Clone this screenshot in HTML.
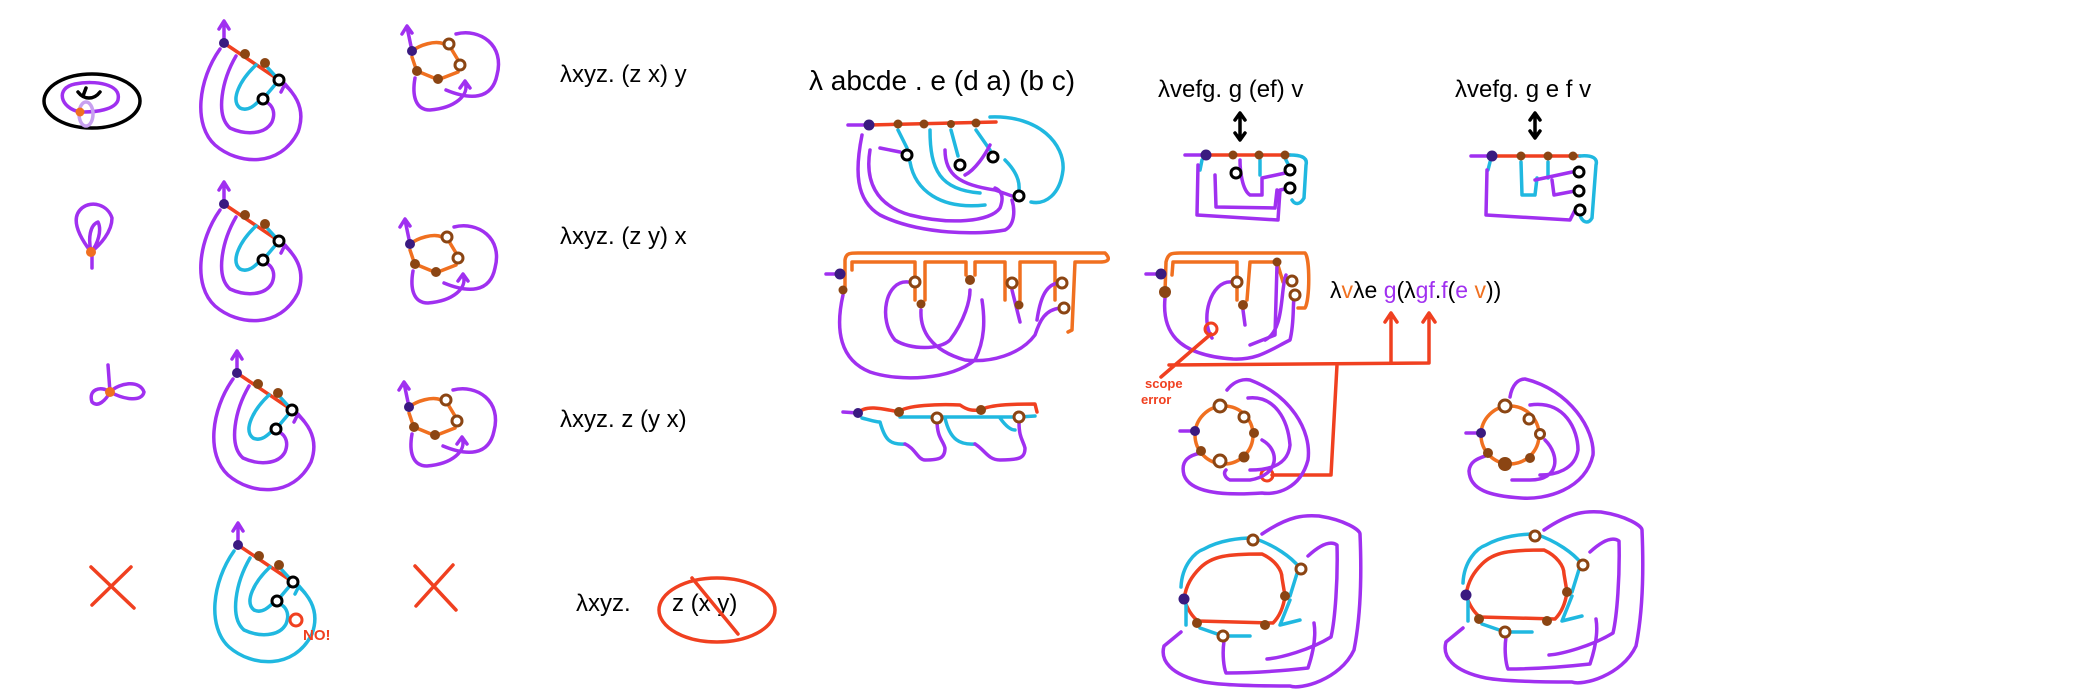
<!DOCTYPE html>
<html><head><meta charset="utf-8"><style>
html,body{margin:0;padding:0;background:#fff;}
svg{display:block;}
text{font-family:"Liberation Sans",sans-serif;}
.p{fill:none;stroke-width:3.5;stroke-linecap:round;stroke-linejoin:round;}
</style></head><body>
<svg width="2100" height="700" viewBox="0 0 2100 700" xmlns="http://www.w3.org/2000/svg">
<defs>
<g id="spiral">
<path class="p" stroke="#a030f0" d="M224,43 L224,22 M219,29 L224,21 L229,29"/>
<path class="p" stroke="#f04020" d="M224,43 L279,80"/>
<path class="p" stroke="#20b8e0" d="M268,68 L279,80 L263,99"/>
<path class="p" stroke="currentColor" d="M220,49 C198,80 193,125 215,145 C238,165 280,168 298,132 C306,110 296,95 285,85 M281,92 L285,84 L291,91"/>
<path class="p" stroke="currentColor" d="M236,56 C222,80 215,115 230,128 C245,135 265,135 272,122 C276,112 272,106 268,103"/>
<path class="p" stroke="#20b8e0" d="M256,65 C240,80 230,100 240,108 C248,112 255,105 260,100"/>
<circle cx="224" cy="43" r="5" fill="#3a1a80"/>
<circle cx="245" cy="54" r="5" fill="#8b4513"/>
<circle cx="265" cy="63" r="5" fill="#8b4513"/>
<circle cx="279" cy="80" r="5" fill="#fff" stroke="#000" stroke-width="3"/>
<circle cx="263" cy="99" r="5" fill="#fff" stroke="#000" stroke-width="3"/>
</g>
<g id="loop">
<path class="p" stroke="#a030f0" d="M412,51 L407,27 M402,34 L407,26 L412,33"/>
<path class="p" stroke="#f07020" d="M412,51 C420,45 435,40 444,44 M452,50 L458,60 M458,72 L440,79 M434,78 L417,71 M415,66 L412,57"/>
<path class="p" stroke="#a030f0" d="M415,78 C412,95 415,110 430,110 C455,108 470,95 465,82 M460,88 L465,81 L470,88"/>
<path class="p" stroke="#a030f0" d="M456,34 C480,28 505,45 497,75 C492,100 470,100 446,90"/>
<circle cx="412" cy="51" r="5" fill="#3a1a80"/>
<circle cx="449" cy="44" r="5" fill="#fff" stroke="#8b4513" stroke-width="3"/>
<circle cx="460" cy="65" r="5" fill="#fff" stroke="#8b4513" stroke-width="3"/>
<circle cx="438" cy="79" r="5" fill="#8b4513"/>
<circle cx="417" cy="71" r="5" fill="#8b4513"/>
</g>
<g id="bigring">
<path class="p" stroke="#f04020" d="M1184,599 C1186,585 1192,576 1200,568 C1212,556 1227,554 1262,554 C1275,560 1282,570 1282,578 L1285,596 C1283,610 1278,618 1273,623 L1198,621 C1190,615 1186,605 1184,599"/>
<path class="p" stroke="#20b8e0" d="M1181,587 C1182,565 1195,552 1204,549 C1220,540 1240,538 1253,538 C1275,545 1292,558 1299,567 L1290,596 M1186,605 L1186,625 M1200,628 L1223,636 L1250,636 M1290,600 L1280,625 L1300,620"/>
<path class="p" stroke="#a030f0" d="M1262,534 C1290,515 1305,515 1319,516 C1345,520 1360,530 1360,534 C1362,580 1360,620 1354,650 C1340,680 1300,690 1290,686 C1250,686 1220,685 1204,682 C1170,675 1160,660 1164,646 L1181,632"/>
<path class="p" stroke="#a030f0" d="M1308,556 C1320,545 1330,540 1337,545 C1338,580 1335,620 1331,637 C1310,650 1280,658 1267,659"/>
<path class="p" stroke="#a030f0" d="M1224,641 C1222,655 1224,668 1226,673 C1260,673 1290,670 1308,668 C1314,650 1316,635 1314,623"/>
<circle cx="1184" cy="599" r="5.5" fill="#3a1a80"/>
<circle cx="1253" cy="540" r="5" fill="#fff" stroke="#8b4513" stroke-width="3"/>
<circle cx="1301" cy="569" r="5" fill="#fff" stroke="#8b4513" stroke-width="3"/>
<circle cx="1223" cy="636" r="5" fill="#fff" stroke="#8b4513" stroke-width="3"/>
<circle cx="1285" cy="596" r="5" fill="#8b4513"/>
<circle cx="1265" cy="625" r="5" fill="#8b4513"/>
<circle cx="1197" cy="623" r="5" fill="#8b4513"/>
</g>
</defs>

<g>
<ellipse cx="92" cy="101" rx="48" ry="27" class="p" stroke="#000"/>
<path class="p" stroke="#a030f0" d="M80,112 C60,108 55,88 75,84 C95,80 122,84 118,100 C115,110 95,112 84,112"/>
<path class="p" stroke="#000" d="M78,92 C84,100 94,100 100,92 M83,96 L86,88"/>
<ellipse cx="86" cy="114" rx="7" ry="12" class="p" stroke="#c8a0f0"/>
<circle cx="80" cy="112" r="4.5" fill="#f07020"/>
</g>
<g>
<path class="p" stroke="#a030f0" d="M91,252 C78,235 70,218 82,208 C92,200 108,205 112,218 C112,232 100,245 91,252 Z M91,252 C88,238 90,225 98,222 C102,230 98,244 91,252 M92,255 L92,268"/>
<circle cx="91" cy="252" r="5" fill="#f07020"/>
</g>
<g>
<path class="p" stroke="#a030f0" d="M108,365 L110,392 C100,385 88,390 92,402 C98,408 106,400 110,392 C120,382 140,380 144,392 C142,402 125,400 110,392"/>
<circle cx="110" cy="392" r="5" fill="#f07020"/>
</g>
<path class="p" stroke="#f04020" d="M91,567 L134,608 M131,567 L92,605"/>

<use href="#spiral" style="color:#a030f0"/>
<use href="#spiral" x="0" y="161" style="color:#a030f0"/>
<use href="#spiral" x="13" y="330" style="color:#a030f0"/>
<use href="#spiral" x="14" y="502" style="color:#20b8e0"/>
<circle cx="296" cy="620" r="6" fill="none" stroke="#f04020" stroke-width="3"/>
<text x="303" y="640" font-size="15" font-weight="bold" fill="#f04020">NO!</text>

<use href="#loop"/>
<use href="#loop" x="-2" y="193"/>
<use href="#loop" x="-3" y="356"/>
<path class="p" stroke="#f04020" d="M415,566 L456,610 M453,565 L416,606"/>

<text x="560" y="82" font-size="24">λxyz.  (z x) y</text>
<text x="560" y="244" font-size="24">λxyz.  (z y) x</text>
<text x="560" y="427" font-size="24">λxyz.  z (y x)</text>
<text x="576" y="611" font-size="24">λxyz.</text>
<ellipse cx="717" cy="610" rx="58" ry="32" class="p" stroke="#f04020"/>
<text x="672" y="611" font-size="24">z (x y)</text>
<path class="p" stroke="#f04020" d="M692,578 L738,634"/>

<text x="809" y="90" font-size="28">λ abcde . e (d a) (b c)</text>
<text x="1158" y="97" font-size="24">λvefg.  g  (ef) v</text>
<text x="1455" y="97" font-size="24">λvefg.  g  e  f  v</text>
<path class="p" stroke="#000" d="M1240,114 L1240,139 M1235,120 L1240,113 L1245,120 M1235,133 L1240,140 L1245,133"/>
<path class="p" stroke="#000" d="M1535,114 L1535,137 M1530,120 L1535,113 L1540,120 M1530,131 L1535,138 L1540,131"/>

<g>
<path class="p" stroke="#a030f0" d="M869,125 L848,125"/>
<path class="p" stroke="#f04020" d="M869,125 L996,122"/>
<path class="p" stroke="#20b8e0" d="M990,117 C1040,115 1065,145 1063,170 C1060,195 1045,205 1031,202 M898,130 L907,148 M951,130 L958,156 M976,130 L990,150 M1005,160 C1015,170 1020,180 1019,190"/>
<path class="p" stroke="#a030f0" d="M862,135 C855,170 855,200 880,215 C920,235 980,235 1005,230 C1015,225 1015,210 1012,200"/>
<path class="p" stroke="#a030f0" d="M870,150 C865,180 875,205 910,215 C950,225 990,222 1000,208 C1005,195 1000,190 995,188 M880,148 L900,152"/>
<path class="p" stroke="#20b8e0" d="M910,162 C915,190 940,210 985,205 M930,130 C930,170 940,190 980,193"/>
<path class="p" stroke="#a030f0" d="M945,150 C945,175 960,185 995,190 L1012,196 M990,145 C985,155 975,170 965,175"/>
<circle cx="869" cy="125" r="5.5" fill="#3a1a80"/>
<circle cx="898" cy="124" r="4.5" fill="#8b4513"/><circle cx="924" cy="124" r="4.5" fill="#8b4513"/>
<circle cx="951" cy="124" r="4" fill="#8b4513"/><circle cx="976" cy="123" r="4.5" fill="#8b4513"/>
<circle cx="907" cy="155" r="5" fill="#fff" stroke="#000" stroke-width="3"/>
<circle cx="960" cy="165" r="5" fill="#fff" stroke="#000" stroke-width="3"/>
<circle cx="993" cy="157" r="5" fill="#fff" stroke="#000" stroke-width="3"/>
<circle cx="1019" cy="196" r="5" fill="#fff" stroke="#000" stroke-width="3"/>
</g>

<g>
<path class="p" stroke="#f07020" d="M845,290 L845,260 C846,253 850,253 858,253 L1105,253 C1110,258 1110,262 1100,262 L1075,262 L1072,330 L1068,332 M852,270 L852,262 L915,262 L915,300 M925,300 L925,262 L966,262 L966,275 M975,275 L975,262 L1005,262 L1005,300 M1020,300 L1020,262 L1055,262 L1055,300"/>
<path class="p" stroke="#a030f0" d="M840,274 L826,274 M843,295 C835,330 840,360 870,372 C900,382 950,380 975,360 C985,340 985,320 982,300"/>
<path class="p" stroke="#a030f0" d="M908,282 C885,280 878,320 895,340 C910,350 940,350 950,340 C965,320 970,300 970,290 M921,310 C920,330 930,350 965,360 C990,363 1020,355 1035,335 C1040,320 1045,310 1060,308 M1012,290 L1020,322 M1058,283 C1045,285 1040,300 1037,320"/>
<circle cx="840" cy="274" r="5.5" fill="#3a1a80"/><circle cx="843" cy="290" r="4.5" fill="#8b4513"/>
<circle cx="915" cy="282" r="5" fill="#fff" stroke="#8b4513" stroke-width="3"/>
<circle cx="970" cy="280" r="5" fill="#8b4513"/>
<circle cx="1012" cy="283" r="5" fill="#fff" stroke="#8b4513" stroke-width="3"/>
<circle cx="1062" cy="283" r="5" fill="#fff" stroke="#8b4513" stroke-width="3"/>
<circle cx="1064" cy="308" r="5" fill="#fff" stroke="#8b4513" stroke-width="3"/>
<circle cx="921" cy="304" r="4.5" fill="#8b4513"/><circle cx="1019" cy="305" r="4.5" fill="#8b4513"/>
</g>

<g>
<path class="p" stroke="#a030f0" d="M858,413 L843,412"/>
<path class="p" stroke="#f04020" d="M858,413 C865,405 880,408 899,412 C905,405 940,404 960,405 C970,412 975,410 981,410 C990,404 1020,404 1035,404 L1037,412"/>
<path class="p" stroke="#20b8e0" d="M862,418 C870,420 875,422 880,422 C885,440 890,445 905,444 M900,417 L1019,417 L1035,416 M945,418 C950,440 960,445 975,444 M1000,418 C1005,425 1010,430 1015,430"/>
<path class="p" stroke="#a030f0" d="M905,444 C915,448 918,460 925,460 C940,460 945,458 945,448 C943,440 937,438 937,420 M975,444 C985,450 988,460 1000,460 C1020,460 1025,458 1025,448 C1023,440 1019,438 1019,422"/>
<circle cx="858" cy="413" r="5" fill="#3a1a80"/>
<circle cx="899" cy="412" r="5" fill="#8b4513"/><circle cx="981" cy="410" r="5" fill="#8b4513"/>
<circle cx="937" cy="418" r="5" fill="#fff" stroke="#8b4513" stroke-width="3"/>
<circle cx="1019" cy="417" r="5" fill="#fff" stroke="#8b4513" stroke-width="3"/>
</g>

<g>
<path class="p" stroke="#a030f0" d="M1206,155 L1185,155"/>
<path class="p" stroke="#f04020" d="M1206,155 L1290,155"/>
<path class="p" stroke="#20b8e0" d="M1290,155 C1300,155 1308,157 1306,165 L1304,198 C1300,205 1295,205 1292,200 M1202,160 L1200,170 M1260,160 L1260,175 M1285,158 L1290,168"/>
<path class="p" stroke="#a030f0" d="M1198,165 L1197,215 L1278,220 L1280,190 L1290,188 M1240,160 C1240,170 1242,190 1250,195 L1262,195 L1262,178 L1290,172 M1215,175 L1216,207 L1275,208 L1277,190"/>
<circle cx="1206" cy="155" r="5.5" fill="#3a1a80"/>
<circle cx="1233" cy="155" r="4.5" fill="#8b4513"/><circle cx="1259" cy="155" r="4.5" fill="#8b4513"/><circle cx="1285" cy="155" r="4.5" fill="#8b4513"/>
<circle cx="1236" cy="173" r="5" fill="#fff" stroke="#000" stroke-width="3"/>
<circle cx="1290" cy="170" r="5" fill="#fff" stroke="#000" stroke-width="3"/>
<circle cx="1290" cy="188" r="5" fill="#fff" stroke="#000" stroke-width="3"/>
</g>

<g>
<path class="p" stroke="#a030f0" d="M1492,156 L1471,156"/>
<path class="p" stroke="#f04020" d="M1492,156 L1580,156"/>
<path class="p" stroke="#20b8e0" d="M1580,156 C1592,155 1598,158 1596,165 L1592,218 C1588,225 1582,222 1580,215 M1521,162 L1522,195 L1535,195 L1537,178 M1548,162 L1548,178 M1490,162 L1488,170"/>
<path class="p" stroke="#a030f0" d="M1487,170 L1486,215 L1570,220 L1575,210 M1535,180 L1572,172 M1552,180 L1554,195 L1575,191"/>
<circle cx="1492" cy="156" r="5.5" fill="#3a1a80"/>
<circle cx="1521" cy="156" r="4.5" fill="#8b4513"/><circle cx="1548" cy="156" r="4.5" fill="#8b4513"/><circle cx="1573" cy="156" r="4.5" fill="#8b4513"/>
<circle cx="1579" cy="172" r="5" fill="#fff" stroke="#000" stroke-width="3"/>
<circle cx="1579" cy="191" r="5" fill="#fff" stroke="#000" stroke-width="3"/>
<circle cx="1580" cy="210" r="5" fill="#fff" stroke="#000" stroke-width="3"/>
</g>

<g>
<path class="p" stroke="#f07020" d="M1165,292 L1166,262 C1168,253 1172,253 1180,253 L1305,253 C1310,258 1310,300 1305,308 L1298,308 M1172,275 L1173,262 L1237,262 L1237,300 M1247,300 L1250,262 L1277,262 M1277,262 L1283,282"/>
<path class="p" stroke="#a030f0" d="M1161,274 L1146,274 M1165,298 C1162,330 1175,355 1233,359 C1258,360 1270,350 1290,340 C1295,320 1292,300 1295,295"/>
<path class="p" stroke="#a030f0" d="M1232,282 C1210,280 1200,320 1212,338 M1243,310 L1245,325 M1277,265 L1275,335 L1250,345 M1286,275 C1280,290 1285,330 1265,340"/>
<circle cx="1161" cy="274" r="5.5" fill="#3a1a80"/><circle cx="1165" cy="292" r="6" fill="#8b4513"/>
<circle cx="1237" cy="282" r="5" fill="#fff" stroke="#8b4513" stroke-width="3"/>
<circle cx="1292" cy="281" r="5" fill="#fff" stroke="#8b4513" stroke-width="3"/>
<circle cx="1295" cy="295" r="5" fill="#fff" stroke="#8b4513" stroke-width="3"/>
<circle cx="1243" cy="305" r="5" fill="#8b4513"/><circle cx="1277" cy="262" r="4.5" fill="#8b4513"/>
</g>
<g>
<circle cx="1211" cy="329" r="6" fill="none" stroke="#f04020" stroke-width="3"/>
<path class="p" stroke="#f04020" stroke-width="3" d="M1211,334 L1161,377 M1169,365 L1429,363 L1429,314 M1423,322 L1429,313 L1435,322 M1391,363 L1391,314 M1385,322 L1391,313 L1397,322 M1337,365 L1331,475 L1272,475"/>
<circle cx="1267" cy="475" r="6" fill="none" stroke="#f04020" stroke-width="3"/>
<text x="1145" y="388" font-size="13" font-weight="bold" fill="#f04020">scope</text>
<text x="1141" y="404" font-size="13" font-weight="bold" fill="#f04020">error</text>
</g>
<text x="1330" y="298" font-size="23">λ<tspan fill="#f07020">v</tspan>λe <tspan fill="#a030f0">g</tspan>(λ<tspan fill="#a030f0">g</tspan><tspan fill="#a030f0">f</tspan>.<tspan fill="#a030f0">f</tspan>(<tspan fill="#a030f0">e</tspan> <tspan fill="#f07020">v</tspan>))</text>

<g>
<circle cx="1224" cy="435" r="29" class="p" stroke="#f07020"/>
<path class="p" stroke="#a030f0" d="M1195,431 L1180,431 M1227,390 C1235,380 1244,379 1250,380 C1290,395 1312,430 1308,460 C1300,490 1275,495 1262,493 C1220,496 1190,492 1184,475 C1180,460 1190,455 1201,453 M1248,398 C1275,395 1288,420 1290,445 C1288,465 1270,470 1250,470 M1262,440 C1280,450 1280,475 1250,480 L1230,480 C1225,478 1223,473 1226,470"/>
<circle cx="1195" cy="431" r="5" fill="#3a1a80"/>
<circle cx="1220" cy="406" r="6" fill="#fff" stroke="#8b4513" stroke-width="3"/>
<circle cx="1244" cy="417" r="5" fill="#fff" stroke="#8b4513" stroke-width="3"/>
<circle cx="1254" cy="433" r="5" fill="#8b4513"/><circle cx="1244" cy="457" r="5.5" fill="#8b4513"/>
<circle cx="1220" cy="461" r="6" fill="#fff" stroke="#8b4513" stroke-width="3"/>
<circle cx="1201" cy="451" r="5" fill="#8b4513"/>
</g>
<g>
<circle cx="1510" cy="435" r="29" class="p" stroke="#f07020"/>
<path class="p" stroke="#a030f0" d="M1481,433 L1466,433 M1510,397 C1512,385 1518,379 1525,379 C1570,390 1595,430 1593,455 C1585,490 1545,500 1521,498 C1490,496 1470,490 1469,471 C1470,460 1480,458 1488,455 M1530,405 C1565,400 1578,430 1578,450 C1575,470 1555,475 1540,475 M1545,440 C1560,455 1560,480 1530,480 L1512,480"/>
<circle cx="1481" cy="433" r="5" fill="#3a1a80"/>
<circle cx="1505" cy="406" r="6" fill="#fff" stroke="#8b4513" stroke-width="3"/>
<circle cx="1529" cy="419" r="5" fill="#fff" stroke="#8b4513" stroke-width="3"/>
<circle cx="1540" cy="434" r="4.5" fill="#fff" stroke="#8b4513" stroke-width="3"/>
<circle cx="1530" cy="458" r="5" fill="#8b4513"/><circle cx="1505" cy="464" r="7" fill="#8b4513"/>
<circle cx="1488" cy="453" r="5" fill="#8b4513"/>
</g>

<use href="#bigring"/>
<use href="#bigring" x="282" y="-4"/>
</svg>
</body></html>
